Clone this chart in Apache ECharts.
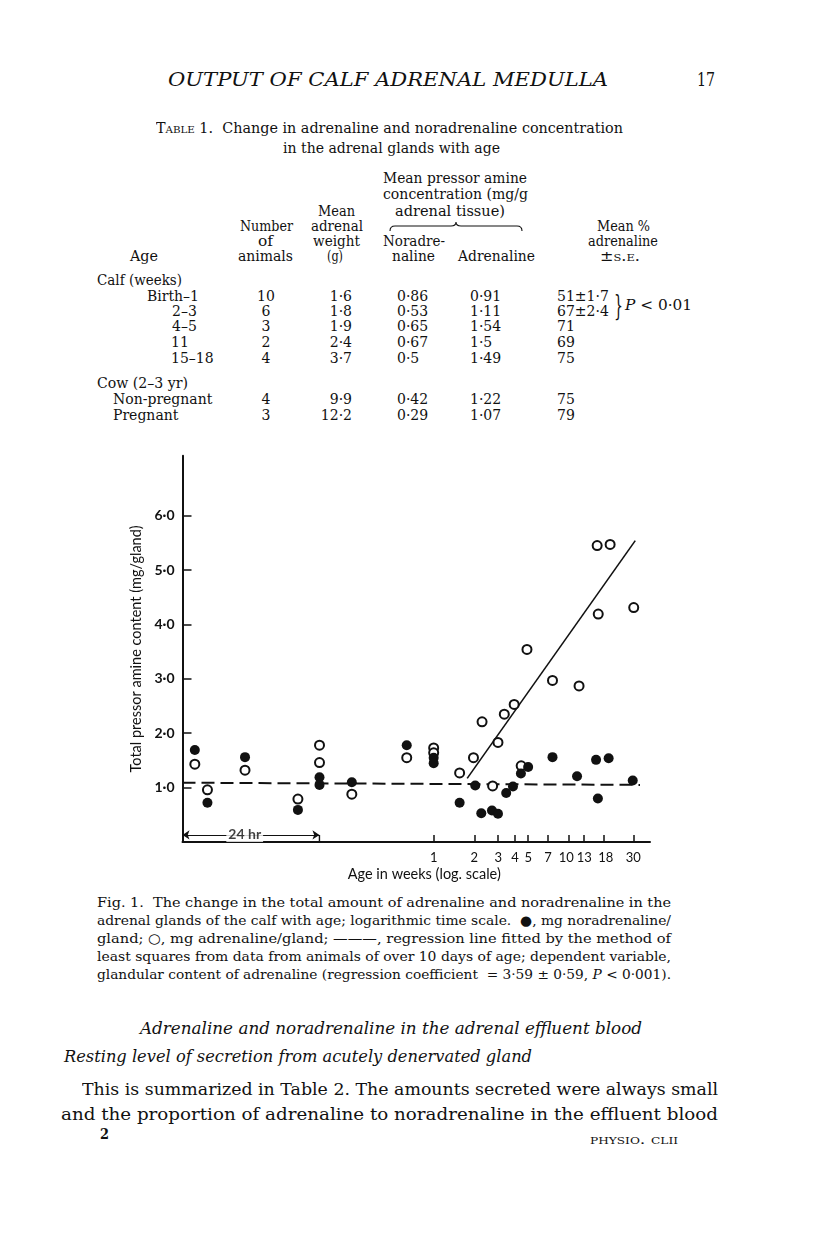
<!DOCTYPE html>
<html><head><meta charset="utf-8">
<script src="https://cdn.jsdelivr.net/npm/echarts@6/dist/echarts.min.js"></script>
<style>
html,body{margin:0;padding:0;background:#fff;}
#page{position:relative;width:816px;height:1234px;overflow:hidden;background:#fff;}
#chart{position:absolute;left:0;top:0;width:816px;height:1234px;z-index:2;}
#brace{position:absolute;left:0;top:0;z-index:1;}
.t{position:absolute;white-space:nowrap;line-height:1;font-family:"DejaVu Serif",serif;color:#111;transform-origin:0 0;}
.sc{font-variant:small-caps;}
</style></head>
<body><div id="page">
<svg id="brace" width="816" height="400"><path d="M390,231 Q390,226 395,226 L451,226 Q456,226 456,222 Q456,226 461,226 L517,226 Q522,226 522,231" fill="none" stroke="#111" stroke-width="1.1"/></svg>
<div id="chart"></div></div>
<script>
// ---------- Figure data (age in weeks, mg per gland) ----------
const noradrenaline = [
  [0.0171,1.69],[0.0212,0.72],[0.0402,1.56],[0.0990,0.59],[0.143,1.19],[0.143,1.05],
  [0.248,1.10],[0.632,1.78],[1.0,1.55],[1.0,1.45],[1.556,0.72],[2.03,1.04],
  [2.25,0.53],[2.70,0.58],[2.99,0.52],[3.44,0.90],[3.86,1.02],[4.42,1.26],
  [5.00,1.38],[7.57,1.56],[11.5,1.21],[15.9,1.51],[16.4,0.80],[19.7,1.54],[29.7,1.13]
];
const adrenaline = [
  [0.0171,1.43],[0.0212,0.96],[0.0402,1.32],[0.0990,0.79],[0.143,1.78],[0.143,1.46],
  [0.248,0.88],[0.632,1.55],[1.0,1.73],[1.0,1.64],[1.556,1.27],[1.97,1.55],
  [2.28,2.21],[2.73,1.03],[2.99,1.83],[3.33,2.35],[3.94,2.53],[4.44,1.40],
  [4.90,3.54],[7.57,2.97],[11.9,2.87],[16.2,5.45],[20.2,5.47],[16.5,4.19],[30.2,4.31]
];
const adrenalineRegression = [[1.77,1.17],[31.0,5.54]];
const noradrenalineLevel = [[0.01386,1.09],[33.6,1.05]];
const xTickValues = [1,2,3,4,5,7,10,13,18,30];
const yTickValues = [1,2,3,4,5,6];
const ageRange = [0.01386, 39.85];
const valueRange = [0, 7.1];
const dayInWeeks = 1/7;
const bracketLevel = 0.13;
const bracketLabelAt = 0.04;

// ---------- Table 1 data ----------
const tableAges = ['Birth–1','2–3','4–5','11','15–18','Non-pregnant','Pregnant'];
const tableAnimals = ['10','6','3','2','4','4','3'];
const tableWeight = ['1·6','1·8','1·9','2·4','3·7','9·9','12·2'];
const tableNoradrenaline = ['0·86','0·53','0·65','0·67','0·5','0·42','0·29'];
const tableAdrenaline = ['0·91','1·11','1·54','1·5','1·49','1·22','1·07'];
const tablePercent = ['51±1·7','67±2·4','71','69','75','75','79'];

// ---------- page text ----------
const page = document.getElementById('page');
function put(html, x, y, size, w, opts) {
  opts = opts || {};
  const s = document.createElement('span');
  s.className = 't';
  s.innerHTML = html;
  s.style.fontSize = size + 'px';
  if (opts.family) s.style.fontFamily = opts.family;
  if (opts.weight) s.style.fontWeight = opts.weight;
  page.appendChild(s);
  const nat = s.getBoundingClientRect().width;
  const k = w ? w / nat : 1;
  const eff = nat * k;
  let left = x;
  if (opts.align === 'c') left = x - eff / 2;
  if (opts.align === 'r') left = x - eff;
  s.style.left = left + 'px';
  s.style.top = (y - 0.52 * size) + 'px';
  if (k !== 1) s.style.transform = 'scaleX(' + k + ')';
}
put('<i>OUTPUT OF CALF ADRENAL MEDULLA</i>', 168, 80, 19, 440);
put('17', 697, 80, 18, 18);
put('<span class="sc">Table</span> 1.&nbsp; Change in adrenaline and noradrenaline concentration', 156, 128, 14, 467);
put('in the adrenal glands with age', 283, 148, 14, 217);
put('Mean pressor amine', 383, 178, 14, 144);
put('concentration (mg/g', 383, 194, 14, 145);
put('adrenal tissue)', 395, 211, 14, 110);
put('Mean', 318, 211, 14, 37);
put('Number', 240, 226, 14, 53);
put('adrenal', 311, 226, 14, 52);
put('Mean %', 597, 226, 14, 53);
put('of', 258, 241, 14, 15);
put('weight', 313, 241, 14, 47);
put('Noradre-', 383, 241, 14, 62);
put('adrenaline', 588, 241, 14, 70);
put('Age', 130, 256, 14, 28);
put('animals', 238, 256, 14, 55);
put('(g)', 327, 256, 14, 16);
put('naline', 392, 256, 14, 43);
put('Adrenaline', 458, 256, 14, 77);
put('±<span class="sc">s.e.</span>', 600, 256, 14, 40);
put('Calf (weeks)', 97, 280, 14, 85);
put('Cow (2–3 yr)', 97, 383, 14, 91);
const rowY = [296.7, 311.7, 326.7, 342.7, 358.3, 399, 415];
const ageLeft = [147, 172, 172, 171, 171, 113, 113];
for (let i = 0; i < tableAges.length; i++) {
  const y = rowY[i];
  put(tableAges[i], ageLeft[i], y, 14);
  put(tableAnimals[i], 266, y, 14, 0, {align: 'c'});
  put(tableWeight[i], 352, y, 14, 0, {align: 'r'});
  put(tableNoradrenaline[i], 397, y, 14);
  put(tableAdrenaline[i], 470, y, 14);
  put(tablePercent[i], 557, y, 14);
}
put('}', 614, 306, 27, 9);
put('<i>P</i> &lt; 0·01', 625, 305, 14, 67);

const captionLines = [
  'Fig. 1.&nbsp; The change in the total amount of adrenaline and noradrenaline in the',
  'adrenal glands of the calf with age; logarithmic time scale.&nbsp; ●, mg noradrenaline/',
  'gland; ○, mg adrenaline/gland; ———, regression line fitted by the method of',
  'least squares from data from animals of over 10 days of age; dependent variable,',
  'glandular content of adrenaline (regression coefficient&nbsp; = 3·59 ± 0·59, <i>P</i> &lt; 0·001).'
];
captionLines.forEach((l, i) => put(l, 97, 903 + 18 * i, 13.5, 574));
put('<i>Adrenaline and noradrenaline in the adrenal effluent blood</i>', 140, 1029, 16, 502);
put('<i>Resting level of secretion from acutely denervated gland</i>', 64, 1057, 16, 468);
put('This is summarized in Table 2. The amounts secreted were always small', 82, 1090, 17, 636);
put('and the proportion of adrenaline to noradrenaline in the effluent blood', 61, 1115, 17, 657);
put('2', 100, 1135, 15, 9, {weight: 'bold'});
put('<span class="sc">physio. clii</span>', 590, 1140, 13, 88);

// ---------- chart ----------
const sans = 'Lato, "Open Sans", sans-serif';
const ink = '#111';
const chart = echarts.init(document.getElementById('chart'), null, {renderer: 'canvas', width: 816, height: 1234});
const fmtX = v => {
  const s = String(+(+v).toPrecision(3));
  if (s === '10') return '{l|10}';
  if (s === '18') return '{r|18}';
  return s;
};
chart.setOption({
  backgroundColor: 'transparent',
  animation: false,
  grid: {left: 182.5, top: 455.8, width: 467.5, height: 386.2},
  xAxis: {
    type: 'log', logBase: 10, min: ageRange[0], max: ageRange[1],
    name: 'Age in weeks (log. scale)', nameLocation: 'middle', nameGap: 25,
    nameTextStyle: {fontFamily: sans, fontSize: 14.5, color: ink, padding: [0, 0, 0, 16]},
    axisLine: {show: true, onZero: false, lineStyle: {color: ink, width: 2}},
    axisTick: {show: true, inside: true, length: 7, customValues: xTickValues, lineStyle: {color: ink, width: 1.5}},
    axisLabel: {show: true, customValues: xTickValues, margin: 9, fontFamily: sans, fontSize: 13, color: ink,
      formatter: fmtX,
      rich: {l: {fontFamily: sans, fontSize: 13, color: ink, padding: [0, 5, 0, 0]},
             r: {fontFamily: sans, fontSize: 13, color: ink, padding: [0, 0, 0, 5]}}},
    splitLine: {show: false}, minorTick: {show: false}, minorSplitLine: {show: false}
  },
  yAxis: {
    type: 'value', min: valueRange[0], max: valueRange[1],
    name: 'Total pressor amine content (mg/gland)', nameLocation: 'middle', nameGap: 28,
    nameTextStyle: {fontFamily: sans, fontSize: 14.5, color: ink},
    axisLine: {show: true, onZero: false, lineStyle: {color: ink, width: 2}},
    axisTick: {show: true, inside: true, length: 9, customValues: yTickValues, lineStyle: {color: ink, width: 1.5}},
    axisLabel: {show: true, customValues: yTickValues, margin: 8, fontFamily: sans, fontSize: 14, fontWeight: 'bold', color: ink,
      formatter: v => (+v).toFixed(1).replace('.', '·')},
    splitLine: {show: false}
  },
  series: [
    {type: 'line', data: noradrenalineLevel, symbol: 'none', z: 1,
      lineStyle: {color: ink, width: 2, type: [13, 6]}},
    {type: 'line', data: adrenalineRegression, symbol: 'none', z: 1,
      lineStyle: {color: ink, width: 1.6}},
    {type: 'scatter', data: adrenaline, symbol: 'circle', symbolSize: 9, z: 3,
      itemStyle: {color: '#fff', borderColor: ink, borderWidth: 2, opacity: 1}},
    {type: 'scatter', data: noradrenaline, symbol: 'circle', symbolSize: 10, z: 4,
      itemStyle: {color: ink, opacity: 1}},
    {type: 'line', data: [[dayInWeeks, bracketLevel], [dayInWeeks, 0]], symbol: 'none', z: 2,
      lineStyle: {color: ink, width: 1.4},
      markLine: {silent: true, symbol: ['arrow', 'arrow'], symbolSize: 7, label: {show: false},
        lineStyle: {color: ink, width: 1.2, type: 'solid'},
        data: [[{coord: [ageRange[0], bracketLevel]}, {coord: [dayInWeeks, bracketLevel]}]]}},
    {type: 'scatter', data: [[bracketLabelAt, bracketLevel]], symbolSize: 1, z: 5,
      itemStyle: {color: 'rgba(0,0,0,0)'},
      label: {show: true, position: 'inside', formatter: '24 hr', backgroundColor: '#fff', padding: [0, 2],
        fontFamily: sans, fontSize: 14, fontWeight: 'bold', color: ink}}
  ]
});
</script></body></html>
